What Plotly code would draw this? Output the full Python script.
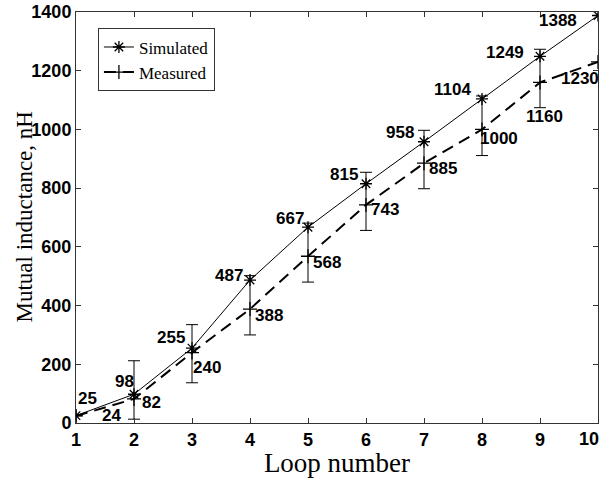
import plotly.graph_objects as go

loops = [1, 2, 3, 4, 5, 6, 7, 8, 9, 10]
simulated = [25, 98, 255, 487, 667, 815, 958, 1104, 1249, 1388]
measured = [24, 82, 240, 388, 568, 743, 885, 1000, 1160, 1230]
err_upper = [None, 212, 335, 502, 681, 854, 997, 1114, 1273, None]
err_lower = [None, 13, 137, 300, 480, 656, 798, 911, 1074, None]
y_ticks = [0, 200, 400, 600, 800, 1000, 1200, 1400]

# label offsets in px (dx, dy) with dy positive = up
sim_off = [(11, 17), (-10, 13), (-21, 11), (-21, 5), (-18, 9), (-22, 9), (-24, 9), (-30, 9), (-35, 4), (-40, -5)]
mea_off = [(35, 0), (17, -4), (15, -15), (19, -6), (19, -6), (19, -5), (19, -5), (17, -9), (4, -34), (-18, -17)]

LABEL_FONT = dict(family="Liberation Sans Narrow, Liberation Sans, Arial", size=17, color="black", weight="bold")
TICK_FONT = dict(family="Liberation Sans Narrow, Liberation Sans, Arial", size=18, color="black", weight="bold")
SERIF = "Liberation Serif, DejaVu Serif, serif"

fig = go.Figure()

# error bars around measured values
centers = [m if u is not None else None for m, u in zip(measured, err_upper)]
plus = [(u - m) if u is not None else None for u, m in zip(err_upper, measured)]
minus = [(m - l) if l is not None else None for l, m in zip(err_lower, measured)]
fig.add_trace(go.Scatter(
    x=loops, y=centers, mode="markers", marker=dict(size=0.1, color="rgba(0,0,0,0)"),
    error_y=dict(type="data", symmetric=False, array=plus, arrayminus=minus,
                 color="black", thickness=1, width=6),
    showlegend=False, hoverinfo="skip"))

fig.add_trace(go.Scatter(
    x=loops, y=simulated, name="Simulated", mode="lines+markers",
    line=dict(color="black", width=1),
    marker=dict(symbol="asterisk-open", size=10, color="black", line=dict(color="black", width=1.3))))

fig.add_trace(go.Scatter(
    x=loops, y=measured, name="Measured", mode="lines+markers",
    line=dict(color="black", width=2, dash="12px,7px"),
    marker=dict(symbol="cross-thin-open", size=10, color="black", line=dict(color="black", width=1.3))))

for x, v, (dx, dy) in zip(loops, simulated, sim_off):
    fig.add_annotation(x=x, y=v, text=str(v), showarrow=False, xshift=dx, yshift=dy, font=LABEL_FONT)
for x, v, (dx, dy) in zip(loops, measured, mea_off):
    fig.add_annotation(x=x, y=v, text=str(v), showarrow=False, xshift=dx, yshift=dy, font=LABEL_FONT)

# y-axis title as rotated text
fig.add_annotation(xref="paper", yref="paper", x=0, y=0.5, xshift=-52, text="Mutual inductance, nH",
                   textangle=-90, showarrow=False, xanchor="center", yanchor="middle",
                   font=dict(family=SERIF, size=23, color="black"))

# last x tick label kept inside the page (right-aligned at the edge)
x_ticktext = [str(v) for v in loops]
last_label = x_ticktext[-1]
x_ticktext[-1] = ""
fig.add_annotation(x=loops[-1], xref="x", yref="paper", y=0, yanchor="top", xanchor="right",
                   xshift=3, yshift=-4, text=last_label, showarrow=False, font=TICK_FONT)

axis_common = dict(showline=True, linecolor="#333", linewidth=1, mirror="ticks",
                   ticks="inside", ticklen=5, tickcolor="#333", showgrid=False, zeroline=False,
                   tickfont=TICK_FONT, automargin=False)

fig.update_layout(
    width=601, height=478,
    margin=dict(l=76, r=3, t=12, b=55),
    plot_bgcolor="white", paper_bgcolor="white",
    xaxis=dict(range=[1, 10], tickvals=loops, ticktext=x_ticktext,
               title=dict(text="Loop number", font=dict(family=SERIF, size=27, color="black"), standoff=3),
               **axis_common),
    yaxis=dict(range=[0, 1400], tickvals=y_ticks, ticktext=[str(v) for v in y_ticks],
               **axis_common),
    legend=dict(x=0.042, y=0.96, xanchor="left", yanchor="top",
                bgcolor="white", bordercolor="#333", borderwidth=1,
                font=dict(family=SERIF, size=17, color="black"),
                itemwidth=30, tracegroupgap=0),
)

fig.write_html("out.html")
